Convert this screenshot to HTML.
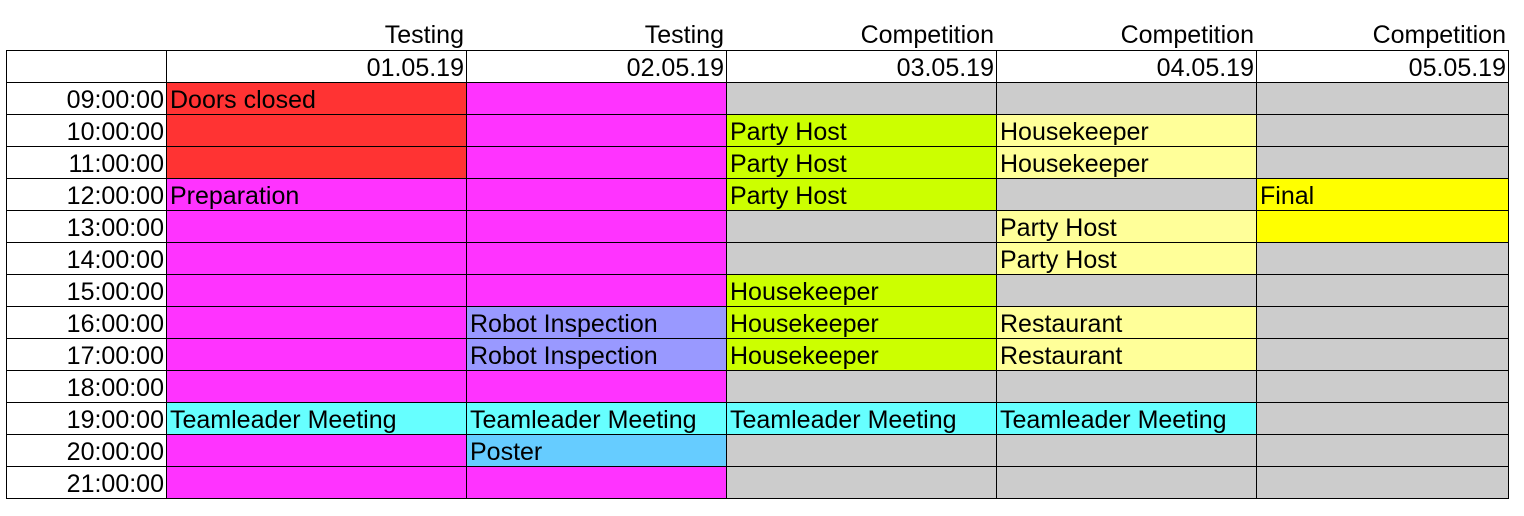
<!DOCTYPE html><html><head><style>
body{margin:0;width:1524px;height:516px;background:#fff;position:relative;font-family:"Liberation Sans",sans-serif;font-size:25px;overflow:hidden}
.c{position:absolute;box-sizing:border-box;border:1px solid #000;margin:-1px 0 0 -1px;line-height:32px;padding-top:1px;white-space:nowrap;overflow:hidden;padding-left:3px;padding-right:2px;color:#000}
.r{text-align:right}
.h{position:absolute;text-align:right;line-height:30px;padding-right:3px;box-sizing:border-box}
</style></head><body>
<div id="g"></div>
<script>
var X=[7,167,467,727,997,1257,1509],Y0=51,H=32;
var top1=["Testing","Testing","Competition","Competition","Competition"];
var dates=["01.05.19","02.05.19","03.05.19","04.05.19","05.05.19"];
var R="#ff3333",M="#ff33ff",G="#cccccc",L="#ccff00",Y="#ffff99",YY="#ffff00",V="#9999ff",C="#66ffff",P="#66ccff";
var d=[
[[R,"Doors closed"],[M,""],[G,""],[G,""],[G,""]],
[[R,""],[M,""],[L,"Party Host"],[Y,"Housekeeper"],[G,""]],
[[R,""],[M,""],[L,"Party Host"],[Y,"Housekeeper"],[G,""]],
[[M,"Preparation"],[M,""],[L,"Party Host"],[G,""],[YY,"Final"]],
[[M,""],[M,""],[G,""],[Y,"Party Host"],[YY,""]],
[[M,""],[M,""],[G,""],[Y,"Party Host"],[G,""]],
[[M,""],[M,""],[L,"Housekeeper"],[G,""],[G,""]],
[[M,""],[V,"Robot Inspection"],[L,"Housekeeper"],[Y,"Restaurant"],[G,""]],
[[M,""],[V,"Robot Inspection"],[L,"Housekeeper"],[Y,"Restaurant"],[G,""]],
[[M,""],[M,""],[G,""],[G,""],[G,""]],
[[C,"Teamleader Meeting"],[C,"Teamleader Meeting"],[C,"Teamleader Meeting"],[C,"Teamleader Meeting"],[G,""]],
[[M,""],[P,"Poster"],[G,""],[G,""],[G,""]],
[[M,""],[M,""],[G,""],[G,""],[G,""]]];
var h="";
function cell(x1,x2,y,bg,t,cls){return '<div class="c '+(cls||'')+'" style="left:'+x1+'px;top:'+y+'px;width:'+(x2-x1+1)+'px;height:'+(H+1)+'px;background:'+bg+'">'+t+'</div>';}
for(var i=0;i<5;i++){h+='<div class="h" style="left:'+X[i+1]+'px;top:20px;width:'+(X[i+2]-X[i+1])+'px">'+top1[i]+'</div>';}
h+=cell(X[0],X[1],Y0,"#fff","");
for(var i=0;i<5;i++)h+=cell(X[i+1],X[i+2],Y0,"#fff",dates[i],"r");
for(var r=0;r<13;r++){var y=Y0+H*(r+1);var t=(9+r<10?"0":"")+(9+r)+":00:00";
h+=cell(X[0],X[1],y,"#fff",t,"r");
for(var i=0;i<5;i++)h+=cell(X[i+1],X[i+2],y,d[r][i][0],d[r][i][1]);}
document.getElementById("g").innerHTML=h;
</script>
</body></html>
